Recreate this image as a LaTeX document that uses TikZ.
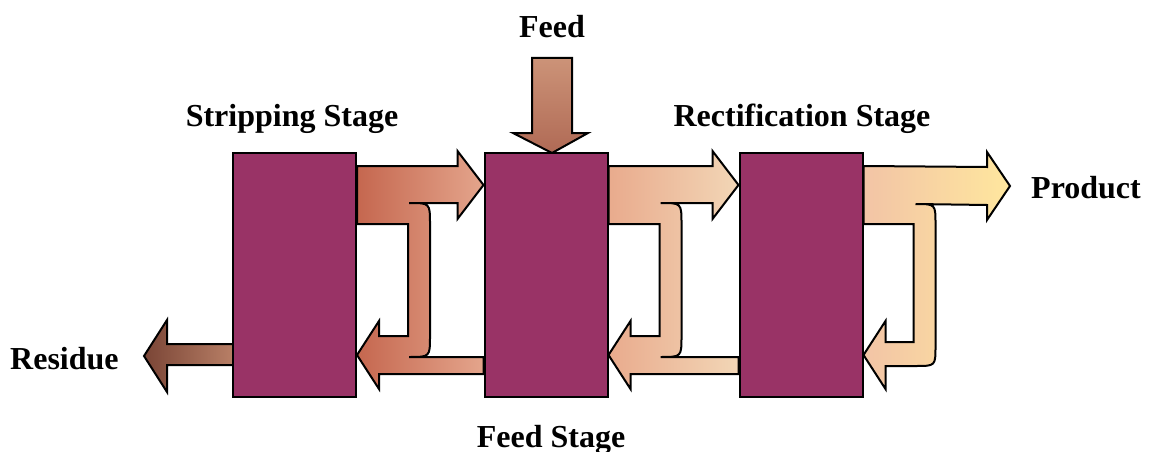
\documentclass[tikz,border=0pt]{standalone}
\usepackage{fontspec}
\setmainfont{Liberation Serif}
\usetikzlibrary{calc,backgrounds}

\definecolor{stagepurple}{HTML}{993366}
\definecolor{stripA}{HTML}{C5674F}
\definecolor{stripB}{HTML}{E4A58C}
\definecolor{feedA}{HTML}{E9AB8D}
\definecolor{feedB}{HTML}{F2D6B6}
\definecolor{rectA}{HTML}{F2C4A6}
\definecolor{rectB}{HTML}{FFE79E}
\definecolor{resA}{HTML}{7A4536}
\definecolor{resB}{HTML}{B87F66}
\definecolor{feedtopcol}{HTML}{CC9378}
\definecolor{feedbotcol}{HTML}{B06A55}

\tikzset{
	stagebox/.style={draw=black,fill=stagepurple,line width=2pt,inner sep=0pt,minimum width=123pt,minimum height=244pt},
	flowline/.style={draw=black,line width=2pt,line join=miter},
	stagelabel/.style={font=\bfseries\fontsize{32}{38}\selectfont,inner sep=0pt,anchor=base}
}

% block arrow pair between two stages: vapour up to the right, liquid back to the left
\newcommand{\recycleflow}[4]{
	\coordinate (l) at (#1.north east);
	\coordinate (r) at (#2.north west);
	\path[flowline,left color=#3,right color=#4]
		($(l)+(0,14)$) -- ($(r)+(-26,14)$) -- ($(r)+(-26,-1)$) -- ($(r)+(0,33)$)
		-- ($(r)+(-26,67)$) -- ($(r)+(-26,51)$) -- ($(l)+(52,51)$)
		.. controls ($(l)+(73,51)$) .. ($(l)+(73,72)$) -- ($(l)+(73,184)$)
		.. controls ($(l)+(73,205)$) .. ($(l)+(52,205)$)
		-- ($(r)+(0,205)$) -- ($(r)+(0,222)$) -- ($(l)+(22,222)$) -- ($(l)+(22,237)$)
		-- ($(l)+(0,203)$) -- ($(l)+(22,169)$) -- ($(l)+(22,184)$) -- ($(l)+(51,184)$)
		-- ($(l)+(51,72)$) -- ($(l)+(0,72)$) -- cycle;
}

\begin{document}
\begin{tikzpicture}[x=1pt,y=-1pt]
	\useasboundingbox (0,0) rectangle (1152,452);

	\node[stagebox] (strip) at (294.5,275) {};
	\node[stagebox] (feedst) at (546,275) {};
	\node[stagebox] (rect) at (801,275) {};

	\coordinate (feedtop) at (552,58);
	\coordinate (prodtip) at (1010,186);
	\coordinate (restip) at (144,356);

	\begin{scope}[on background layer]
		\recycleflow{strip}{feedst}{stripA}{stripB}
		\recycleflow{feedst}{rect}{feedA}{feedB}

		% top stage: product out, reflux back
		\coordinate (l) at (rect.north east);
		\path[flowline,left color=rectA,right color=rectB]
			($(l)+(0,14)$) -- ($(prodtip)+(-23,-19)$) -- ($(prodtip)+(-23,-34)$) -- (prodtip)
			-- ($(prodtip)+(-23,34)$) -- ($(prodtip)+(-23,19)$) -- ($(l)+(52,52)$)
			.. controls ($(l)+(72,52)$) .. ($(l)+(72,72)$) -- ($(l)+(72,194)$)
			.. controls ($(l)+(72,214)$) .. ($(l)+(52,214)$)
			-- ($(l)+(22,214)$) -- ($(l)+(22,237)$) -- ($(l)+(0,203)$) -- ($(l)+(22,169)$)
			-- ($(l)+(22,190)$) -- ($(l)+(50,190)$) -- ($(l)+(50,72)$) -- ($(l)+(0,72)$) -- cycle;

		% residue
		\path[flowline,left color=resA,right color=resB]
			($(strip.west)+(1,69)$) -- ($(restip)+(23,-12)$) -- ($(restip)+(23,-36)$) -- (restip)
			-- ($(restip)+(23,36)$) -- ($(restip)+(23,9)$) -- ($(strip.west)+(1,90)$) -- cycle;

		% feed
		\path[flowline,top color=feedtopcol,bottom color=feedbotcol]
			($(feedtop)+(-20,0)$) -- ($(feedtop)+(20,0)$) -- ($(feedtop)+(20,75)$) -- ($(feedtop)+(36,75)$)
			-- ($(feedst.north)+(6,1)$) -- ($(feedtop)+(-39,75)$) -- ($(feedtop)+(-20,75)$) -- cycle;
	\end{scope}

	\node[stagelabel] (feedlbl) at (552,38) {Feed};
	\node[stagelabel] (striplbl) at (292,126) {Stripping Stage};
	\node[stagelabel] (rectlbl) at (802,126) {Rectification Stage};
	\node[stagelabel,anchor=base west] (prodlbl) at (1031,198) {Product};
	\node[stagelabel,anchor=base west] (reslbl) at (10,369) {Residue};
	\node[stagelabel] (feedstlbl) at (551,447) {Feed Stage};
\end{tikzpicture}
\end{document}
